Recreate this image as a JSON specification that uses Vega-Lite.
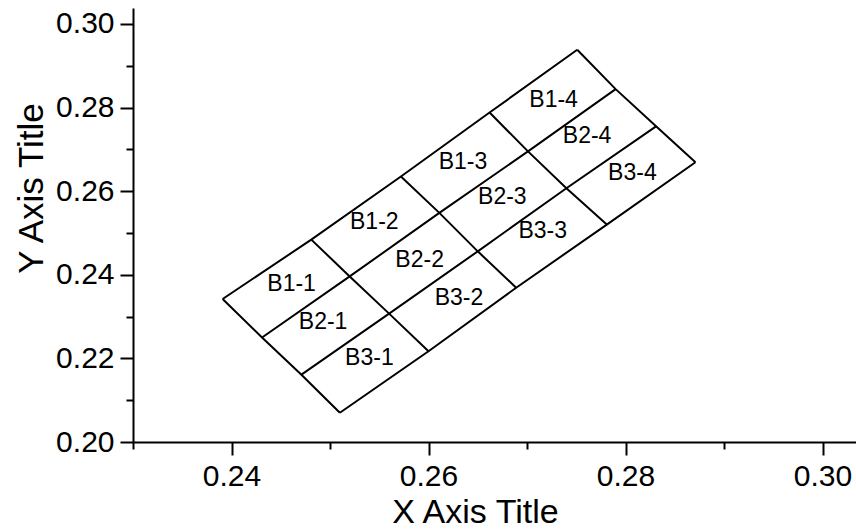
{
  "$schema": "https://vega.github.io/schema/vega-lite/v6.json",
  "autosize": {"type": "none"},
  "padding": {"left": 133, "top": 8, "right": 0, "bottom": 87},
  "width": 723,
  "height": 434,
  "background": "white",
  "config": {"view": {"stroke": null}},
  "datasets": {
    "vertices": [
      {"i": 0, "j": 0, "x": 0.2391, "y": 0.2342},
      {"i": 0, "j": 1, "x": 0.2481, "y": 0.2484},
      {"i": 0, "j": 2, "x": 0.2572, "y": 0.2635},
      {"i": 0, "j": 3, "x": 0.2662, "y": 0.2788},
      {"i": 0, "j": 4, "x": 0.2751, "y": 0.2938},
      {"i": 1, "j": 0, "x": 0.2431, "y": 0.2250},
      {"i": 1, "j": 1, "x": 0.2520, "y": 0.2396},
      {"i": 1, "j": 2, "x": 0.2611, "y": 0.2548},
      {"i": 1, "j": 3, "x": 0.2701, "y": 0.2695},
      {"i": 1, "j": 4, "x": 0.2790, "y": 0.2844},
      {"i": 2, "j": 0, "x": 0.2471, "y": 0.2161},
      {"i": 2, "j": 1, "x": 0.2560, "y": 0.2307},
      {"i": 2, "j": 2, "x": 0.2650, "y": 0.2456},
      {"i": 2, "j": 3, "x": 0.2740, "y": 0.2607},
      {"i": 2, "j": 4, "x": 0.2831, "y": 0.2755},
      {"i": 3, "j": 0, "x": 0.2510, "y": 0.2070},
      {"i": 3, "j": 1, "x": 0.2600, "y": 0.2217},
      {"i": 3, "j": 2, "x": 0.2689, "y": 0.2369},
      {"i": 3, "j": 3, "x": 0.2781, "y": 0.2520},
      {"i": 3, "j": 4, "x": 0.2871, "y": 0.2669}
    ],
    "labels": [
      {"label": "B1-1", "x": 0.2461, "y": 0.2379},
      {"label": "B2-1", "x": 0.2493, "y": 0.2286},
      {"label": "B3-1", "x": 0.2540, "y": 0.2201},
      {"label": "B1-2", "x": 0.2545, "y": 0.2525},
      {"label": "B2-2", "x": 0.2591, "y": 0.2436},
      {"label": "B3-2", "x": 0.2631, "y": 0.2345},
      {"label": "B1-3", "x": 0.2635, "y": 0.2669},
      {"label": "B2-3", "x": 0.2675, "y": 0.2587},
      {"label": "B3-3", "x": 0.2716, "y": 0.2504},
      {"label": "B1-4", "x": 0.2727, "y": 0.2818},
      {"label": "B2-4", "x": 0.2761, "y": 0.2732},
      {"label": "B3-4", "x": 0.2807, "y": 0.2643}
    ]
  },
  "encoding": {
    "x": {
      "field": "x", "type": "quantitative",
      "scale": {"domain": [0.23, 0.3034], "zero": false, "nice": false},
      "axis": {
        "title": "X Axis Title",
        "values": [0.23, 0.24, 0.25, 0.26, 0.27, 0.28, 0.29, 0.30],
        "labelExpr": "round(datum.value*100) % 2 == 0 ? format(datum.value, '.2f') : ''",
        "grid": false,
        "domainColor": "black", "domainWidth": 2,
        "tickColor": "black", "tickWidth": 2,
        "tickSize": {"condition": {"test": "round(datum.value*100) % 2 == 0", "value": 13}, "value": 7},
        "labelFont": "Liberation Sans", "labelFontSize": 30, "labelColor": "black",
        "labelPadding": 6, "labelFlush": false, "labelOverlap": false,
        "titleFont": "Liberation Sans", "titleFontSize": 34, "titleFontWeight": "normal", "titleColor": "black",
        "titleX": 342, "titleY": 80, "titleBaseline": "alphabetic", "titleAlign": "center"
      }
    },
    "y": {
      "field": "y", "type": "quantitative",
      "scale": {"domain": [0.20, 0.3038], "zero": false, "nice": false},
      "axis": {
        "title": "Y Axis Title",
        "values": [0.20, 0.21, 0.22, 0.23, 0.24, 0.25, 0.26, 0.27, 0.28, 0.29, 0.30],
        "labelExpr": "round(datum.value*100) % 2 == 0 ? format(datum.value, '.2f') : ''",
        "grid": false,
        "domainColor": "black", "domainWidth": 2,
        "tickColor": "black", "tickWidth": 2,
        "tickSize": {"condition": {"test": "round(datum.value*100) % 2 == 0", "value": 13}, "value": 7},
        "labelFont": "Liberation Sans", "labelFontSize": 30, "labelColor": "black",
        "labelPadding": 6, "labelFlush": false, "labelOverlap": false,
        "titleFont": "Liberation Sans", "titleFontSize": 35, "titleFontWeight": "normal", "titleColor": "black",
        "titleX": -91, "titleY": 180, "titleBaseline": "alphabetic", "titleAlign": "center", "titleAngle": -90
      }
    }
  },
  "layer": [
    {
      "data": {"name": "vertices"},
      "mark": {"type": "line", "color": "black", "strokeWidth": 2},
      "encoding": {"detail": {"field": "i", "type": "nominal"}, "order": {"field": "j", "type": "quantitative"}}
    },
    {
      "data": {"name": "vertices"},
      "mark": {"type": "line", "color": "black", "strokeWidth": 2},
      "encoding": {"detail": {"field": "j", "type": "nominal"}, "order": {"field": "i", "type": "quantitative"}}
    },
    {
      "data": {"name": "labels"},
      "mark": {"type": "text", "font": "Liberation Sans", "fontSize": 23, "color": "black", "align": "center", "baseline": "middle"},
      "encoding": {"text": {"field": "label", "type": "nominal"}}
    }
  ]
}
